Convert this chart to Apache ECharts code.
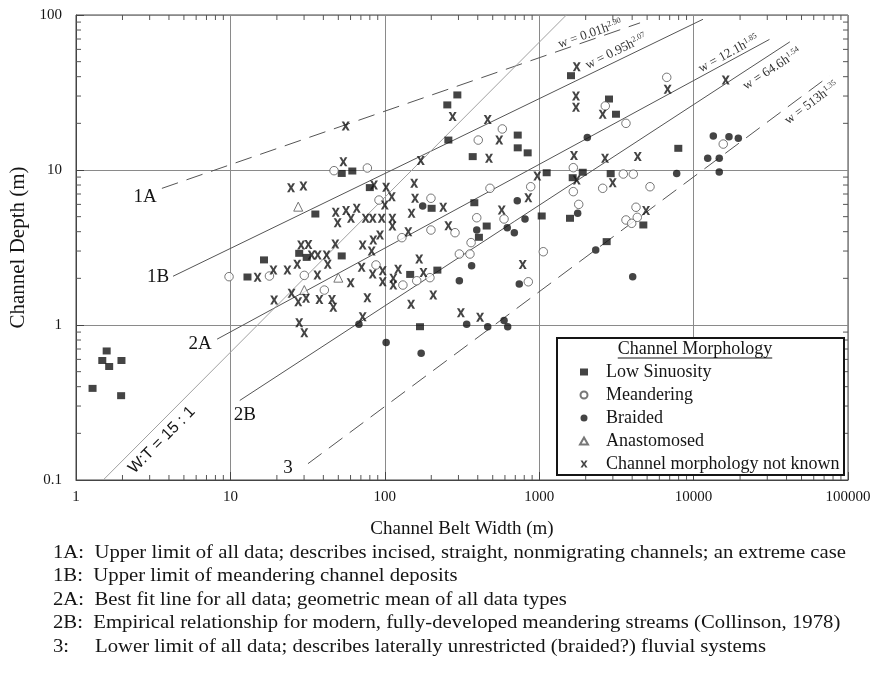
<!DOCTYPE html>
<html>
<head>
<meta charset="utf-8">
<script src="https://cdn.jsdelivr.net/npm/echarts@6/dist/echarts.min.js"></script>
<style>
  html, body { margin: 0; background: #fff; }
  #chart { width: 878px; height: 675px; }
</style>
</head>
<body>
<div id="chart"></div>
<script>
// [belt width (m), depth (m)]
const lowSinuosity = [
  [1.58, 0.68], [1.48, 0.59], [1.64, 0.54], [1.97, 0.59], [1.28, 0.39], [1.96, 0.35],
  [12.9, 2.04], [16.5, 2.63], [27.9, 2.9], [31.2, 2.73], [52.6, 2.79],
  [52.6, 9.5], [61.6, 9.85], [35.5, 5.2], [80, 7.7],
  [295, 30.5], [254, 26.3], [258, 15.6], [726, 16.8], [726, 13.9], [842, 12.9], [371, 12.2], [1118, 9.6],
  [201, 5.66], [380, 6.15], [457, 4.35], [407, 3.68], [1038, 5.05], [146, 2.12], [219, 2.26], [169, 0.975],
  [1583, 4.88], [1607, 40.6], [2831, 28.7], [3142, 22.9], [1914, 9.67], [1648, 8.92], [2904, 9.47],
  [7960, 13.8], [4725, 4.42], [2735, 3.45]
];
const meandering = [
  [9.8, 2.05], [17.9, 2.07], [30.1, 2.09], [40.6, 1.68], [46.9, 9.9], [77.1, 10.3],
  [199, 6.57], [91.7, 6.4], [199, 4.1], [129, 3.66], [285, 3.94], [394, 4.92], [480, 7.62], [881, 7.8],
  [592, 4.83], [362, 3.4], [304, 2.87], [356, 2.87], [87.7, 2.44], [161, 1.93], [196, 2.02], [131, 1.81],
  [850, 1.9], [1063, 2.97], [577, 18.4], [403, 15.6],
  [6700, 39.6], [2680, 25.9], [3648, 20], [1663, 10.35], [1663, 7.25], [1803, 6.0], [2578, 7.62],
  [3505, 9.42], [4070, 9.4], [5220, 7.8], [4236, 5.75], [3648, 4.76], [3972, 4.53], [4317, 4.95],
  [15560, 14.7]
];
const braided = [
  [176, 5.86], [394, 4.1], [365, 2.41], [304, 1.93], [621, 4.24], [690, 3.94], [721, 6.34], [809, 4.83],
  [743, 1.84], [339, 1.01], [464, 0.975], [592, 1.07], [625, 0.975], [102, 0.77], [68, 1.01], [172, 0.657],
  [2323, 3.05], [4032, 2.05], [2049, 16.2], [1775, 5.26], [7770, 9.5], [13420, 16.6], [16950, 16.4],
  [19480, 16.0], [12340, 11.9], [14660, 11.9], [14660, 9.7]
];
const anastomosed = [[27.5, 5.8], [30.1, 1.68], [50, 2.02]];
const unknown = [
  [55.8, 19.2], [53.9, 11.3], [24.7, 7.69], [29.7, 7.88], [48.1, 5.33], [56.1, 5.47], [49.5, 4.57],
  [60.4, 4.88], [65.8, 5.66], [28.7, 3.28], [32.0, 3.31], [47.8, 3.33], [75.2, 4.88], [71.9, 3.28],
  [275, 22.1], [464, 21.2], [551, 15.6], [473, 11.9], [171, 11.5], [972, 9.15], [155, 8.2], [85.1, 8.0],
  [102, 7.73], [1750, 46.4], [1731, 30.0], [1731, 25.4], [2578, 22.9], [1680, 12.4], [2669, 11.9],
  [4346, 12.2], [1750, 8.62], [2993, 8.28], [111, 6.73], [157, 6.57], [239, 5.75], [149, 5.26],
  [572, 5.52], [850, 6.63], [258, 4.37], [142, 4.0], [93.1, 3.81], [84.2, 3.54],
  [83.5, 4.88], [95.5, 4.88], [112, 4.88], [112, 4.35], [100, 5.94],
  [82.2, 3.0], [70.8, 2.36], [83.5, 2.13], [96.9, 2.24], [96.9, 1.9], [113.5, 2.0], [113.5, 1.81],
  [122, 2.29], [167, 2.67], [178, 2.18], [206, 1.56], [148, 1.36], [77.1, 1.5], [71.9, 1.13],
  [311, 1.2], [414, 1.12], [782, 2.46],
  [33.6, 2.83], [36.8, 2.83], [42, 2.83], [42.7, 2.47], [27.1, 2.47], [19, 2.26], [23.4, 2.26],
  [15, 2.03], [36.6, 2.1], [60.1, 1.87], [19.2, 1.45], [24.9, 1.6], [27.5, 1.41], [30.9, 1.49],
  [37.7, 1.46], [45.5, 1.46], [46.4, 1.3], [27.9, 1.035], [30.1, 0.89],
  [6790, 33.2], [16140, 38.1], [4920, 5.47]
];

const legendNames = ['Low Sinuosity', 'Meandering', 'Braided', 'Anastomosed', 'Channel morphology not known'];

// minor tick positions
const xMinor = [2, 3, 4, 5, 6, 7, 8, 9, 20, 30, 40, 50, 60, 70, 80, 90, 200, 300, 400, 500, 600, 700, 800, 900,
  2000, 3000, 4000, 5000, 6000, 7000, 8000, 9000, 20000, 30000, 40000, 50000, 60000, 70000, 80000, 90000];
const yMinor = [0.2, 0.3, 0.4, 0.5, 0.6, 0.7, 0.8, 0.9, 2, 3, 4, 5, 6, 7, 8, 9, 20, 30, 40, 50, 60, 70, 80, 90];

// fitted relations w = a * h^b
const fitA = [0.01, 0.95, 12.1, 64.6, 513, 15];
const fitB = [2.90, 2.07, 1.85, 1.54, 1.35, 1];
const fitFrom = [3.6, 4.25, 8.2, 11.5, 31.8, 1.5];
const fitTo = [4500, 11500, 31000, 42000, 76000, 1500];
const fitDashed = [true, false, false, false, true, false];

// equation labels along lines
const eqText = ['{t|w = 0.01h}{s|2.90}', '{t|w = 0.95h}{s|2.07}', '{t|w = 12.1h}{s|1.85}',
  '{t|w = 64.6h}{s|1.54}', '{t|w = 513h}{s|1.35}'];
const eqW = [2200, 3340, 17700, 29000, 52700];
const eqShift = [6, 9, 7, -13, -11];

// line names
const tagText = ['1A', '1B', '2A', '2B', '3', 'W:T = 15 : 1'];
const tagPos = [[2.8, 6.7], [3.4, 2.04], [6.36, 0.754], [12.4, 0.263], [23.6, 0.12], [3.6, 0.181]];

const captions = [
  '1A:  Upper limit of all data; describes incised, straight, nonmigrating channels; an extreme case',
  '1B:  Upper limit of meandering channel deposits',
  '2A:  Best fit line for all data; geometric mean of all data types',
  '2B:  Empirical relationship for modern, fully-developed meandering streams (Collinson, 1978)',
  '3:     Lower limit of all data; describes laterally unrestricted (braided?) fluvial systems'
];

const serif = '"Liberation Serif", "Times New Roman", serif';
const ink = '#151515';
const chart = echarts.init(document.getElementById('chart'));

function fitLine(i) {
  const pts = [fitFrom[i], fitTo[i]].map(w => [w, Math.pow(w / fitA[i], 1 / fitB[i])]);
  return {
    type: 'line', data: pts, symbol: 'none', silent: true, z: 1,
    lineStyle: { color: i === 5 ? '#a0a0a0' : '#555', width: 1, type: fitDashed[i] ? [17, 9] : 'solid' }
  };
}

function tickSeries(data, dx, dy) {
  return {
    type: 'custom', silent: true, z: 3, data,
    renderItem(params, api) {
      const p = api.coord([api.value(0), api.value(1)]);
      return { type: 'line', shape: { x1: p[0], y1: p[1], x2: p[0] + dx, y2: p[1] + dy },
        style: { stroke: '#555', lineWidth: 1 } };
    }
  };
}

const xSym = 'path://M0,0H3L5,3.2L7,0H10L6.6,5L10,10H7L5,6.8L3,10H0L3.4,5Z';

const series = [0, 1, 2, 3, 4, 5].map(fitLine).concat([
  tickSeries(xMinor.map(v => [v, 0.1]), 0, -5),
  tickSeries(xMinor.map(v => [v, 100]), 0, 5),
  tickSeries(yMinor.map(v => [1, v]), 5, 0),
  tickSeries(yMinor.map(v => [100000, v]), -5, 0),
  {
    type: 'custom', silent: true, z: 4, data: eqW.map(w => [w, 1]),
    renderItem(params, api) {
      const i = params.dataIndex;
      const w = api.value(0);
      const h = Math.pow(w / fitA[i], 1 / fitB[i]);
      const p = api.coord([w, h]);
      const q = api.coord([w * 2, Math.pow(w * 2 / fitA[i], 1 / fitB[i])]);
      const ang = Math.atan2(p[1] - q[1], q[0] - p[0]);
      const d = eqShift[i];
      return {
        type: 'text', x: p[0] - d * Math.sin(ang), y: p[1] - d * Math.cos(ang), rotation: ang,
        style: {
          text: eqText[i], align: 'center', verticalAlign: 'middle', fill: '#333',
          rich: {
            t: { fontFamily: serif, fontSize: 13, fill: '#333', lineHeight: 14 },
            s: { fontFamily: serif, fontSize: 8, fill: '#333', verticalAlign: 'top', lineHeight: 8 }
          }
        }
      };
    }
  },
  {
    type: 'custom', silent: true, z: 4, data: tagPos,
    renderItem(params, api) {
      const i = params.dataIndex;
      const p = api.coord([api.value(0), api.value(1)]);
      const wt = i === 5;
      return {
        type: 'text', x: p[0], y: p[1], rotation: wt ? Math.PI / 4 : 0,
        style: {
          text: tagText[i], align: 'center', verticalAlign: 'middle', fill: ink,
          font: wt ? '16px "Liberation Sans", Arial, sans-serif' : '19px ' + serif
        }
      };
    }
  },
  { name: legendNames[0], type: 'scatter', data: lowSinuosity, symbol: 'rect', symbolSize: [8, 7], z: 5,
    itemStyle: { color: ink } },
  { name: legendNames[1], type: 'scatter', data: meandering, symbol: 'circle', symbolSize: 8.5, z: 5,
    itemStyle: { color: '#fff', borderColor: '#555', borderWidth: 1 } },
  { name: legendNames[2], type: 'scatter', data: braided, symbol: 'circle', symbolSize: 7.5, z: 5,
    itemStyle: { color: ink } },
  { name: legendNames[3], type: 'scatter', data: anastomosed, symbol: 'triangle', symbolSize: 9, z: 5,
    itemStyle: { color: '#fff', borderColor: '#555', borderWidth: 1 } },
  { name: legendNames[4], type: 'scatter', data: unknown, symbol: xSym, symbolSize: [8, 9], z: 5,
    itemStyle: { color: ink } }
]);

// caption sizing
const ctx = document.createElement('canvas').getContext('2d');
ctx.font = '19px "Liberation Serif"';
const capScale = 793 / ctx.measureText(captions[0]).width;
ctx.font = '18px "Liberation Serif"';
const titleW = ctx.measureText('Channel Morphology').width;

const graphics = [
  { type: 'rect', shape: { x: 557, y: 338, width: 287, height: 137 }, z: 10,
    style: { fill: '#fff', stroke: ink, lineWidth: 2 } },
  { type: 'text', x: 695, y: 349, z: 11,
    style: { text: 'Channel Morphology', font: '18px ' + serif, fill: ink, align: 'center', verticalAlign: 'middle' } },
  { type: 'line', z: 11, shape: { x1: 695 - titleW / 2, y1: 358, x2: 695 + titleW / 2, y2: 358 },
    style: { stroke: ink, lineWidth: 1 } }
].concat(captions.map((t, i) => ({
  type: 'text', x: 53, y: 553 + i * 23.5, scaleX: capScale, z: 11,
  style: { text: t, font: '19px ' + serif, fill: ink, verticalAlign: 'middle', align: 'left' }
})));

function fmt(v) { return String(+(+v).toPrecision(6)); }

chart.setOption({
  animation: false,
  backgroundColor: '#fff',
  grid: {
    left: 76, right: 30, top: 15, bottom: 195, show: true, borderColor: '#444', borderWidth: 1,
    containLabel: false, outerBoundsMode: 'none'
  },
  xAxis: {
    type: 'log', logBase: 10, min: 1, max: 100000,
    name: 'Channel Belt Width (m)', nameLocation: 'middle', nameGap: 40,
    nameTextStyle: { fontFamily: serif, fontSize: 19, color: ink },
    axisLine: { lineStyle: { color: '#444' } },
    axisTick: { inside: true, length: 8, lineStyle: { color: '#444' } },
    axisLabel: { formatter: fmt, fontFamily: serif, fontSize: 15, color: ink, margin: 10, showMaxLabel: true },
    splitLine: { lineStyle: { color: '#8a8a8a', width: 1 } }
  },
  yAxis: {
    type: 'log', logBase: 10, min: 0.1, max: 100,
    name: 'Channel Depth (m)', nameLocation: 'middle', nameGap: 47,
    nameTextStyle: { fontFamily: serif, fontSize: 21, color: ink },
    axisLine: { lineStyle: { color: '#444' } },
    axisTick: { inside: true, length: 8, lineStyle: { color: '#444' } },
    axisLabel: { formatter: fmt, fontFamily: serif, fontSize: 15, color: ink, margin: 14 },
    splitLine: { lineStyle: { color: '#8a8a8a', width: 1 } }
  },
  legend: {
    orient: 'vertical', left: 574, top: 358, itemWidth: 8, itemHeight: 7, itemGap: 5,
    data: legendNames, selectedMode: false, z: 12,
    textStyle: { fontFamily: serif, fontSize: 18, color: ink, padding: [0, 0, 0, 13] }
  },
  graphic: graphics,
  series
});
</script>
</body>
</html>
